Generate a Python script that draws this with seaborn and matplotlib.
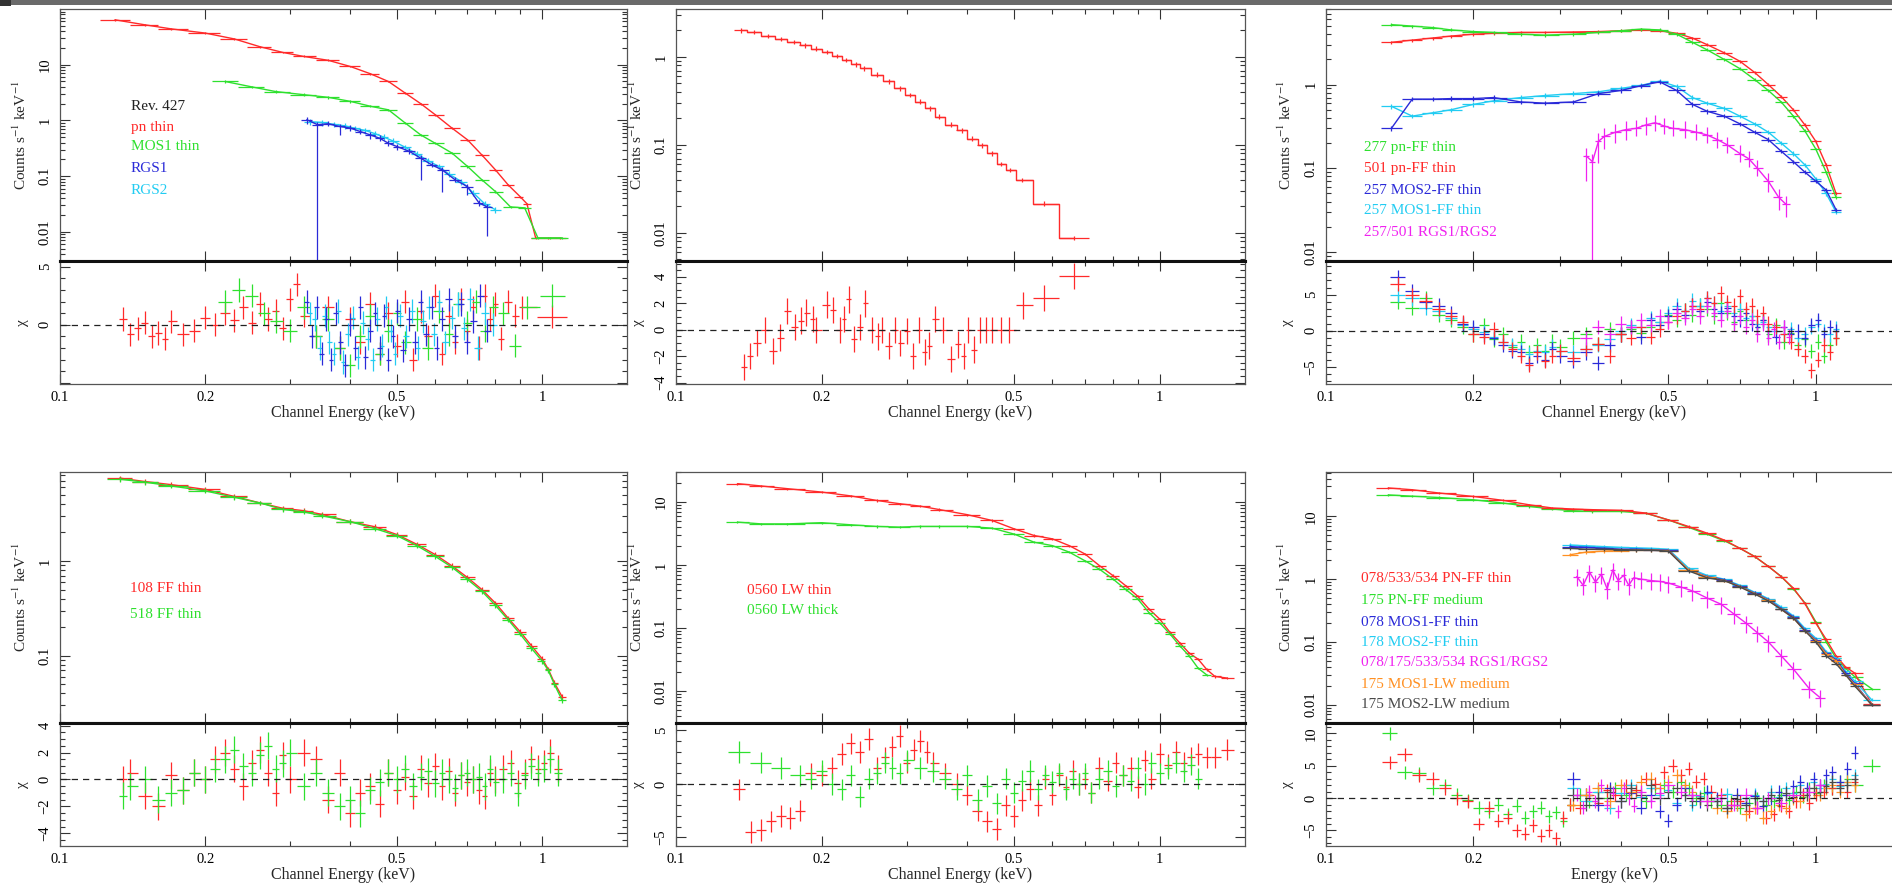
import numpy as np
import pandas as pd
import matplotlib
matplotlib.use("Agg")
import matplotlib.pyplot as plt
from matplotlib.patches import Rectangle
from matplotlib.ticker import FixedLocator, FixedFormatter, NullFormatter, LogLocator, AutoMinorLocator
import seaborn as sns

# ---------------- data ----------------
# Panel 1 : Rev. 427
p1_red_E = [0.13, 0.15, 0.17, 0.20, 0.23, 0.26, 0.29, 0.32, 0.36, 0.40, 0.44, 0.48, 0.52, 0.56, 0.60, 0.65, 0.70, 0.75, 0.80, 0.85, 0.90, 0.93, 0.97, 1.03, 1.09]
p1_red_V = [64, 52, 44, 37, 29, 21, 16.6, 14.1, 12, 9.3, 6.9, 5.0, 3.1, 2.0, 1.27, 0.73, 0.45, 0.24, 0.13, 0.07, 0.043, 0.032, 0.0077, 0.0077, 0.0077]
p1_green_E = [0.22, 0.25, 0.28, 0.32, 0.36, 0.40, 0.44, 0.48, 0.52, 0.56, 0.60, 0.65, 0.70, 0.75, 0.80, 0.86, 0.92, 0.98, 1.04, 1.10]
p1_green_V = [5.0, 4.0, 3.3, 2.9, 2.6, 2.2, 1.8, 1.55, 0.9, 0.55, 0.39, 0.26, 0.15, 0.086, 0.053, 0.028, 0.027, 0.0078, 0.0078, 0.0078]
p1_blue_E = [0.325, 0.342, 0.36, 0.38, 0.40, 0.42, 0.44, 0.46, 0.48, 0.50, 0.53, 0.56, 0.59, 0.62, 0.66, 0.70, 0.74, 0.77]
p1_blue_V = [1.03, 0.84, 0.87, 0.78, 0.73, 0.63, 0.55, 0.48, 0.39, 0.34, 0.28, 0.21, 0.16, 0.13, 0.086, 0.065, 0.033, 0.028]
p1_blue_low = [0.15, 0.999, 0.1, 0.3, 0.1, 0.1, 0.15, 0.1, 0.1, 0.15, 0.1, 0.6, 0.1, 0.6, 0.1, 0.3, 0.1, 0.7]
p1_cyan_E = [0.33, 0.35, 0.37, 0.39, 0.41, 0.43, 0.45, 0.47, 0.49, 0.52, 0.55, 0.58, 0.61, 0.64, 0.68, 0.72, 0.76, 0.80]
p1_cyan_V = [0.95, 0.92, 0.85, 0.80, 0.72, 0.66, 0.58, 0.50, 0.43, 0.33, 0.25, 0.19, 0.15, 0.11, 0.08, 0.05, 0.032, 0.025]

p1_red_rE = [0.135, 0.14, 0.145, 0.15, 0.155, 0.16, 0.165, 0.17, 0.18, 0.19, 0.20, 0.21, 0.22, 0.23, 0.24, 0.25, 0.26, 0.27, 0.28, 0.29, 0.30, 0.31, 0.32, 0.34, 0.36, 0.38, 0.40, 0.42, 0.44, 0.46, 0.48, 0.50, 0.52, 0.54, 0.56, 0.58, 0.60, 0.62, 0.64, 0.66, 0.68, 0.70, 0.72, 0.74, 0.76, 0.78, 0.80, 0.82, 0.85, 0.88, 0.91, 1.05]
p1_red_R = [0.5, -0.8, -0.3, 0.2, -1.0, -0.7, -1.2, 0.3, -0.8, -0.5, 0.6, 0.0, 1.0, 0.4, 1.5, 0.2, 1.8, 0.5, 1.2, -0.3, 2.2, 3.5, 0.8, -1.0, 1.5, -2.0, 0.5, -1.5, 1.8, -2.5, 1.0, -1.8, 2.0, -3.0, 1.2, -1.0, 2.5, -2.5, 0.8, -1.5, 2.2, -0.5, 1.5, -2.0, 2.5, 0.5, 1.8, -1.2, 2.0, 0.8, 1.5, 0.7]
p1_green_rE = [0.22, 0.235, 0.25, 0.265, 0.28, 0.30, 0.32, 0.34, 0.36, 0.38, 0.40, 0.42, 0.44, 0.46, 0.48, 0.50, 0.52, 0.55, 0.58, 0.61, 0.64, 0.67, 0.70, 0.73, 0.76, 0.79, 0.83, 0.88, 0.93, 1.05]
p1_green_R = [2.0, 3.0, 2.5, 1.0, 0.3, -0.5, 1.5, -1.0, 0.5, -2.0, -3.5, -1.0, 0.8, -2.5, -0.5, 1.0, -1.5, 0.5, -2.0, 1.2, -0.8, 1.8, 0.2, 2.0, -0.5, 1.5, 1.0, -1.8, 1.5, 2.5]
p1_blue_rE = [0.325, 0.333, 0.341, 0.349, 0.357, 0.365, 0.373, 0.381, 0.39, 0.40, 0.41, 0.42, 0.43, 0.44, 0.45, 0.46, 0.47, 0.48, 0.49, 0.50, 0.515, 0.53, 0.545, 0.56, 0.575, 0.59, 0.605, 0.62, 0.64, 0.66, 0.68, 0.70, 0.72, 0.745, 0.77]
p1_blue_R = [2.0, -1.0, 1.5, -2.5, 0.5, -3.0, 1.0, -1.5, -3.5, 0.0, -2.0, 1.5, -2.8, -0.5, 1.0, -2.0, 0.8, -3.0, -1.0, 1.2, -2.2, 0.5, -1.5, 2.0, -0.8, 1.5, -2.0, 0.5, 2.2, -1.0, 1.8, -1.5, 0.3, 2.5, -0.5]
p1_cyan_rE = [0.33, 0.338, 0.346, 0.354, 0.362, 0.37, 0.378, 0.386, 0.395, 0.405, 0.415, 0.425, 0.435, 0.445, 0.455, 0.465, 0.475, 0.485, 0.495, 0.507, 0.522, 0.537, 0.552, 0.567, 0.582, 0.597, 0.612, 0.63, 0.65, 0.67, 0.69, 0.71, 0.735, 0.76, 0.79]
p1_cyan_R = [1.0, 0.5, -2.0, 0.8, -1.5, -2.5, 1.2, -3.2, -0.8, 0.6, -2.8, 0.2, -1.2, -3.0, 0.5, -1.8, 1.5, -0.5, -2.5, 0.8, -1.0, 1.2, -2.0, 0.3, 1.5, -0.8, 2.0, -1.5, 0.6, 1.8, -0.3, 2.2, -2.0, 1.0, 0.0]

# Panel 2
p2_E = [0.136, 0.145, 0.155, 0.165, 0.175, 0.185, 0.195, 0.205, 0.215, 0.225, 0.235, 0.245, 0.26, 0.275, 0.29, 0.305, 0.32, 0.335, 0.35, 0.37, 0.39, 0.41, 0.43, 0.45, 0.47, 0.49, 0.52, 0.575, 0.665]
p2_V = [2.0, 1.92, 1.73, 1.6, 1.48, 1.36, 1.24, 1.14, 1.03, 0.92, 0.82, 0.74, 0.63, 0.53, 0.44, 0.37, 0.31, 0.26, 0.21, 0.17, 0.147, 0.118, 0.099, 0.08, 0.061, 0.052, 0.04, 0.0215, 0.0088]
p2_rE = [0.138, 0.142, 0.147, 0.153, 0.159, 0.164, 0.17, 0.176, 0.181, 0.186, 0.192, 0.195, 0.205, 0.211, 0.218, 0.222, 0.228, 0.233, 0.24, 0.246, 0.254, 0.262, 0.267, 0.275, 0.283, 0.291, 0.30, 0.309, 0.318, 0.327, 0.333, 0.343, 0.357, 0.371, 0.382, 0.394, 0.401, 0.413, 0.425, 0.438, 0.451, 0.469, 0.487, 0.522, 0.575, 0.665]
p2_R = [-2.8, -2.0, -1.0, 0.0, -1.6, -0.6, 1.4, 0.2, 0.7, 1.3, 0.8, 0.0, 1.9, 1.5, 0.0, 0.8, 2.3, -0.7, 0.2, 2.0, 0.0, -0.5, 0.0, -1.2, 0.0, -1.0, -0.1, -2.0, 0.0, -1.7, -1.2, 0.8, 0.0, -2.2, -1.1, -2.0, 0.0, -1.5, 0.0, 0.0, 0.0, 0.0, 0.0, 1.85, 2.4, 4.05]

# Panel 3
p3_E = [0.136, 0.15, 0.165, 0.18, 0.2, 0.22, 0.25, 0.28, 0.32, 0.36, 0.40, 0.44, 0.48, 0.52, 0.56, 0.60, 0.65, 0.70, 0.75, 0.80, 0.85, 0.90, 0.95, 1.0, 1.05, 1.1]
p3_green_V = [5.2, 5.0, 4.8, 4.5, 4.3, 4.2, 4.0, 3.9, 4.0, 4.2, 4.4, 4.6, 4.5, 4.0, 3.2, 2.6, 2.0, 1.55, 1.15, 0.85, 0.62, 0.42, 0.28, 0.17, 0.09, 0.045]
p3_red_V = [3.2, 3.4, 3.6, 3.8, 4.0, 4.1, 4.2, 4.2, 4.25, 4.3, 4.4, 4.5, 4.4, 4.1, 3.6, 3.0, 2.4, 1.9, 1.4, 1.0, 0.72, 0.5, 0.33, 0.21, 0.11, 0.05]
p3_blue_V = [0.30, 0.67, 0.67, 0.68, 0.68, 0.70, 0.62, 0.60, 0.62, 0.78, 0.85, 0.97, 1.08, 0.85, 0.58, 0.48, 0.42, 0.34, 0.27, 0.22, 0.16, 0.12, 0.09, 0.07, 0.055, 0.032]
p3_cyan_V = [0.55, 0.42, 0.46, 0.50, 0.58, 0.64, 0.70, 0.74, 0.78, 0.82, 0.90, 0.98, 1.10, 0.95, 0.70, 0.60, 0.52, 0.42, 0.34, 0.27, 0.20, 0.15, 0.11, 0.075, 0.05, 0.03]
p3_mag_E = [0.34, 0.35, 0.36, 0.37, 0.39, 0.41, 0.43, 0.45, 0.47, 0.49, 0.51, 0.54, 0.57, 0.60, 0.63, 0.66, 0.70, 0.73, 0.76, 0.80, 0.84, 0.87]
p3_mag_V = [0.14, 0.12, 0.21, 0.24, 0.27, 0.29, 0.30, 0.33, 0.35, 0.32, 0.30, 0.29, 0.27, 0.25, 0.22, 0.19, 0.15, 0.13, 0.10, 0.07, 0.045, 0.037]
p3_mag_low = [0.5, 0.999, 0.45, 0.3, 0.25, 0.25, 0.2, 0.25, 0.2, 0.2, 0.2, 0.2, 0.2, 0.2, 0.2, 0.2, 0.2, 0.2, 0.2, 0.25, 0.3, 0.3]

p3_rE = [0.14, 0.15, 0.16, 0.17, 0.18, 0.19, 0.20, 0.21, 0.22, 0.23, 0.24, 0.25, 0.26, 0.27, 0.28, 0.29, 0.30, 0.32, 0.34, 0.36, 0.38, 0.40, 0.42, 0.44, 0.46, 0.48, 0.50, 0.52, 0.54, 0.56, 0.58, 0.60, 0.62, 0.64, 0.66, 0.68, 0.70, 0.72, 0.74, 0.76, 0.78, 0.80, 0.83, 0.86, 0.89, 0.92, 0.95, 0.98, 1.01, 1.04, 1.07, 1.10]
p3_red_R = [6.5, 5.0, 4.2, 3.0, 2.0, 1.2, -0.5, -0.8, 0.2, -1.5, -2.5, -3.5, -4.8, -3.0, -4.2, -3.5, -2.8, -3.8, -2.5, -1.8, -3.5,
            -0.5, -1.0, 0.5, -0.8, 0.2, 1.2, 2.0, 2.8, 3.5, 3.0, 4.5, 3.8, 5.2, 4.0, 3.5, 4.8, 3.0, 3.5, 2.0, 2.5, 1.0,
            0.5, -0.5, -1.5, -2.5, -3.5, -5.5, -4.0, -2.0, -3.0, -1.0]
p3_green_R = [4.0, 3.2, 4.5, 2.2, 1.5, 0.5, -0.5, 0.8, -1.2, -0.5, -2.2, -1.5, -3.0, -2.0, -2.8, -1.5, -2.2, -1.0, -0.5, -1.8, 0.2,
              -0.5, 0.3, -0.3, 0.5, 1.2, 2.2, 1.5, 2.8, 2.2, 3.5, 3.0, 2.0, 3.8, 2.5, 1.2, 2.8, 1.5, 2.0, 0.5, 1.5, -0.5,
              0.8, -1.5, -0.3, -2.0, -1.2, -2.8, -1.5, -3.5, -2.0, -1.0]
p3_blue_R = [7.5, 5.5, 4.0, 3.5, 2.5, 1.0, 0.5, -0.5, -1.0, -2.0, -2.8, -3.0, -4.5, -3.5, -4.0, -2.5, -3.5, -4.2, -3.0, -4.5, -2.0,
             -0.5, 0.5, -0.8, 1.5, 0.8, 2.0, 3.0, 2.2, 3.5, 2.8, 4.0, 3.0, 2.5, 3.2, 2.0, 1.5, 2.5, 1.0, 0.5, 1.5, 0.0,
             -0.8, 0.5, -0.5, 0.0, -1.0, 0.8, 1.5, -0.5, 0.5, 0.0]
p3_cyan_R = [5.0, 4.5, 3.2, 2.8, 1.8, 0.8, 0.2, -0.2, -0.8, -1.5, -2.0, -2.5, -3.2, -2.8, -3.0, -2.2, -2.8, -3.0, -2.5, -2.0, -1.2,
             0.0, 0.8, 0.5, 1.8, 1.2, 2.5, 3.5, 2.8, 4.2, 3.5, 4.5, 3.8, 2.8, 3.5, 2.5, 3.0, 1.8, 2.0, 1.0, 1.2, 0.5,
             0.0, -0.5, 0.2, -1.0, -0.5, 0.5, 1.0, 0.0, -0.5, 0.3]
p3_mag_rE = [0.34, 0.36, 0.38, 0.40, 0.42, 0.44, 0.46, 0.48, 0.50, 0.52, 0.54, 0.56, 0.58, 0.60, 0.62, 0.64, 0.66, 0.68, 0.70, 0.72, 0.74, 0.76, 0.78, 0.80, 0.82, 0.84, 0.86, 0.88]
p3_mag_R = [-1.0, 0.5, -0.5, 1.0, 0.5, 1.5, 0.8, 2.0, 1.2, 2.5, 1.8, 3.0, 2.0, 3.5, 2.5, 1.5, 2.8, 1.0, 2.0, 0.5, 1.5, -0.5, 1.0, -1.0, 0.2, -1.5, 0.5, -0.8]

# Panel 4
p4_E = [0.133, 0.15, 0.17, 0.2, 0.23, 0.26, 0.29, 0.32, 0.35, 0.4, 0.45, 0.5, 0.55, 0.6, 0.65, 0.7, 0.75, 0.8, 0.85, 0.9, 0.95, 1.0, 1.03, 1.06, 1.1]
p4_red_V = [7.5, 6.9, 6.4, 5.7, 4.8, 4.1, 3.6, 3.4, 3.1, 2.6, 2.3, 1.9, 1.5, 1.17, 0.89, 0.67, 0.5, 0.36, 0.25, 0.18, 0.128, 0.093, 0.072, 0.052, 0.037]
p4_green_V = [7.3, 6.8, 6.2, 5.5, 4.7, 4.1, 3.5, 3.3, 3.0, 2.6, 2.2, 1.85, 1.45, 1.12, 0.86, 0.64, 0.48, 0.34, 0.24, 0.17, 0.12, 0.088, 0.07, 0.05, 0.034]
p4_rE = [0.135, 0.14, 0.15, 0.16, 0.17, 0.18, 0.19, 0.20, 0.21, 0.22, 0.23, 0.24, 0.25, 0.26, 0.27, 0.28, 0.29, 0.30, 0.32, 0.34, 0.36, 0.38, 0.40, 0.42, 0.44, 0.46, 0.48, 0.50, 0.52, 0.54, 0.56, 0.58, 0.60, 0.62, 0.64, 0.66, 0.68, 0.70, 0.72, 0.74, 0.76, 0.78, 0.80, 0.83, 0.86, 0.89, 0.92, 0.95, 0.98, 1.01, 1.04, 1.08]
p4_red_R = [0.0, 0.5, -1.2, -2.0, 0.3, -0.8, 0.5, 0.0, 1.5, 2.0, 0.8, -0.5, 1.2, 2.2, 0.5, -1.0, 1.8, 0.0, 2.0, 1.5, -1.5, 0.5, -2.5, -1.0, -0.5, -1.8, 0.5, -0.8, 0.2, -1.2, 0.8, -0.3, 1.0, -0.5, 0.6, -1.0, 0.3, -0.2, 0.0, -0.8, -1.2, 0.5, 0.0, 0.8, 1.2, -0.3, 0.5, 1.5, 0.8, 1.2, 2.0, 0.8]
p4_green_R = [-1.2, -0.5, 0.0, -1.5, -1.0, -0.8, 0.5, 0.0, 0.8, 1.5, 2.2, 1.0, 0.5, 1.8, 2.5, 0.8, 1.2, 2.0, -0.5, 0.5, -1.0, -2.0, -1.5, -2.5, -0.8, -0.2, 0.5, 0.0, 0.8, -0.5, 0.2, 0.6, -0.3, 0.5, 0.0, -0.6, 0.3, 0.5, 0.0, 0.2, -0.5, 0.8, -0.2, 0.0, 0.5, -1.0, 0.3, 1.0, 0.5, 0.8, 1.5, 0.5]

# Panel 5
p5_red_E = [0.134, 0.15, 0.17, 0.2, 0.23, 0.26, 0.29, 0.32, 0.35, 0.4, 0.45, 0.5, 0.55, 0.6, 0.65, 0.7, 0.75, 0.8, 0.85, 0.9, 0.95, 1.0, 1.05, 1.1, 1.15, 1.2, 1.25, 1.3, 1.38]
p5_red_V = [19.6, 18, 16.3, 14.4, 12.5, 10.6, 9.4, 8.6, 7.6, 6.3, 5.1, 3.75, 2.94, 2.6, 2.03, 1.5, 0.98, 0.68, 0.47, 0.32, 0.2, 0.138, 0.085, 0.058, 0.04, 0.032, 0.022, 0.017, 0.016]
p5_green_E = [0.134, 0.15, 0.17, 0.2, 0.23, 0.26, 0.29, 0.32, 0.35, 0.4, 0.45, 0.5, 0.55, 0.6, 0.65, 0.7, 0.75, 0.8, 0.85, 0.9, 0.95, 1.0, 1.05, 1.1, 1.15, 1.2, 1.25]
p5_green_V = [4.8, 4.5, 4.5, 4.7, 4.35, 4.1, 4.0, 4.1, 4.1, 4.1, 3.85, 3.1, 2.3, 2.03, 1.6, 1.17, 0.86, 0.6, 0.41, 0.29, 0.175, 0.12, 0.08, 0.052, 0.036, 0.023, 0.018]
p5_red_rE = [0.135, 0.143, 0.15, 0.157, 0.165, 0.172, 0.18, 0.19, 0.20, 0.21, 0.22, 0.23, 0.24, 0.25, 0.26, 0.27, 0.28, 0.29, 0.30, 0.31, 0.32, 0.33, 0.34, 0.36, 0.38, 0.40, 0.42, 0.44, 0.46, 0.48, 0.50, 0.52, 0.54, 0.56, 0.58, 0.60, 0.62, 0.64, 0.66, 0.68, 0.70, 0.72, 0.75, 0.78, 0.81, 0.84, 0.87, 0.90, 0.93, 0.96, 1.0, 1.04, 1.08, 1.12, 1.16, 1.2, 1.25, 1.3, 1.38]
p5_red_R = [-0.5, -4.5, -4.3, -3.5, -3.0, -3.2, -2.5, 1.0, 0.8, 1.5, 2.8, 3.8, 3.0, 4.2, 1.5, 2.5, 3.5, 4.5, 2.0, 3.2, 4.0, 3.0, 2.0, 1.0, 0.0, -1.0, -2.5, -3.5, -4.2, -2.0, -3.0, -1.5, -0.5, -2.0, 0.5, -1.0, 0.8, -0.3, 1.2, 0.0, 0.5, -0.8, 1.5, 0.3, 2.0, 0.8, 1.5, -0.3, 2.2, 0.5, 2.8, 1.8, 3.0, 2.0, 2.5, 2.8, 2.5, 2.5, 3.2]
p5_green_rE = [0.135, 0.15, 0.165, 0.18, 0.19, 0.20, 0.21, 0.22, 0.23, 0.24, 0.25, 0.26, 0.27, 0.28, 0.29, 0.30, 0.32, 0.34, 0.36, 0.38, 0.40, 0.42, 0.44, 0.46, 0.48, 0.50, 0.52, 0.54, 0.56, 0.58, 0.60, 0.62, 0.64, 0.66, 0.68, 0.70, 0.72, 0.75, 0.78, 0.81, 0.84, 0.87, 0.90, 0.93, 0.96, 1.0, 1.04, 1.08, 1.12, 1.16, 1.2]
p5_green_R = [3.0, 2.0, 1.5, 0.8, 0.5, 1.2, 0.0, -0.5, 0.8, -1.2, 0.5, 1.0, 2.0, 1.5, 1.0, 2.2, 1.5, 1.2, 0.5, -0.5, 0.8, -1.5, -0.2, -1.8, 0.5, -0.8, 0.3, 1.2, -0.5, 0.8, 0.2, 1.0, -0.5, 0.5, 0.0, 1.0, -0.8, 0.5, 1.2, -0.2, 0.8, 0.3, 1.5, 0.0, 2.0, 1.0, 1.5, 2.0, 1.2, 1.8, 0.5]

# Panel 6
p6_E = [0.134, 0.15, 0.17, 0.2, 0.23, 0.26, 0.29, 0.32, 0.35, 0.4, 0.45, 0.5, 0.55, 0.6, 0.65, 0.7, 0.75, 0.8, 0.85, 0.9, 0.95, 1.0, 1.05, 1.1, 1.15, 1.2, 1.3]
p6_red_V = [28.4, 26.6, 23.6, 20.8, 18, 15.3, 13.6, 13.1, 12.8, 12.5, 11.3, 8.8, 6.9, 5.4, 4.2, 3.1, 2.3, 1.6, 1.1, 0.72, 0.41, 0.2, 0.11, 0.06, 0.04, 0.032, 0.0104]
p6_green_V = [22, 21, 20, 18.4, 16.3, 14.4, 13.1, 12.3, 12.0, 12.0, 11.2, 8.8, 6.7, 5.2, 4.1, 3.1, 2.3, 1.6, 1.1, 0.7, 0.42, 0.21, 0.1, 0.055, 0.038, 0.028, 0.018]
p6_mos_E = [0.315, 0.34, 0.37, 0.40, 0.43, 0.46, 0.5, 0.55, 0.6, 0.65, 0.7, 0.75, 0.8, 0.85, 0.9, 0.95, 1.0, 1.05, 1.1, 1.15, 1.2, 1.3]
p6_blue_V = [3.3, 3.2, 3.1, 3.0, 3.0, 2.95, 2.9, 1.4, 1.1, 0.98, 0.77, 0.6, 0.47, 0.34, 0.25, 0.155, 0.108, 0.066, 0.052, 0.032, 0.022, 0.01]
p6_cyan_V = [3.5, 3.4, 3.3, 3.2, 3.15, 3.1, 3.0, 1.5, 1.15, 1.0, 0.8, 0.62, 0.49, 0.36, 0.26, 0.165, 0.115, 0.07, 0.055, 0.034, 0.024, 0.012]
p6_orange_V = [2.45, 2.7, 2.8, 2.85, 2.9, 2.9, 2.85, 1.4, 1.08, 0.95, 0.76, 0.59, 0.46, 0.33, 0.24, 0.15, 0.105, 0.064, 0.05, 0.03, 0.021, 0.01]
p6_gray_V = [3.1, 3.0, 3.0, 2.95, 2.9, 2.9, 2.8, 1.35, 1.05, 0.95, 0.75, 0.58, 0.45, 0.33, 0.24, 0.15, 0.1, 0.06, 0.045, 0.03, 0.02, 0.01]
p6_mag_E = [0.325, 0.335, 0.345, 0.355, 0.365, 0.375, 0.385, 0.395, 0.405, 0.415, 0.425, 0.44, 0.46, 0.48, 0.50, 0.53, 0.56, 0.60, 0.64, 0.68, 0.72, 0.76, 0.80, 0.85, 0.90, 0.97, 1.02]
p6_mag_V = [1.1, 0.8, 1.3, 0.9, 1.2, 0.7, 1.4, 0.95, 1.15, 0.8, 1.05, 1.0, 0.95, 0.92, 0.87, 0.75, 0.65, 0.5, 0.4, 0.28, 0.2, 0.14, 0.1, 0.06, 0.037, 0.018, 0.013]

p6_pn_rE = [0.135, 0.145, 0.155, 0.165, 0.175, 0.185, 0.195, 0.205, 0.215, 0.225, 0.235, 0.245, 0.255, 0.265, 0.275, 0.285, 0.295, 0.305, 0.315, 0.33, 0.345, 0.36, 0.375, 0.39, 0.41, 0.43, 0.45, 0.47, 0.49, 0.51, 0.53, 0.55, 0.57, 0.59, 0.61, 0.64, 0.67, 0.70, 0.73, 0.76, 0.79, 0.82, 0.85, 0.88, 0.91, 0.94, 0.97, 1.0, 1.04, 1.08, 1.12, 1.16, 1.2, 1.3]
p6_red_R = [5.5, 6.8, 3.5, 3.0, 1.5, 0.0, -0.5, -4.0, -1.5, -3.5, -3.0, -5.0, -5.5, -4.2, -5.8, -5.0, -6.2, -3.0, -1.0, -1.5, 0.5, -0.8, 1.2, 0.5, 2.0, 1.2, 3.0, 2.2, 4.0, 5.0, 3.5, 4.5, 2.5, 3.0, 1.0, 0.5, -1.0, -0.5, -2.0, -1.5, -3.0, -2.5, -1.2, -2.0, -0.5, 0.5, -0.8, 0.5, 1.0, 1.5, 2.0, 1.0, 2.5]
p6_green_R = [10.0, 4.0, 3.8, 1.5, 2.0, 0.5, -0.3, -1.5, -2.0, -1.0, -2.5, -1.2, -3.0, -2.0, -1.5, -2.8, -2.2, -3.5, -1.0, 0.5, -0.5, 1.0, 0.0, 1.5, 0.5, 1.0, -0.5, 1.5, 2.0, 1.0, 2.5, 1.5, 0.0, 0.8, -0.5, -1.0, -0.5, -1.5, -0.8, 0.0, -1.0, -0.5, 0.5, -0.3, 1.0, 0.2, 1.5, 0.8, 2.0, 1.5, 2.5, 3.0, 2.0, 5.0]
p6_mos_rE = [0.32, 0.34, 0.36, 0.38, 0.40, 0.42, 0.44, 0.46, 0.48, 0.50, 0.52, 0.54, 0.56, 0.58, 0.60, 0.63, 0.66, 0.69, 0.72, 0.75, 0.78, 0.81, 0.84, 0.87, 0.90, 0.93, 0.96, 0.99, 1.02, 1.05, 1.08, 1.12, 1.16, 1.2]
p6_blue_R = [3.0, 0.5, -1.0, 1.5, -0.5, 0.8, -1.5, 0.5, -2.0, -3.5, -1.0, 1.5, 0.5, -0.5, 1.0, 0.0, -1.5, 0.5, -0.8, 0.3, -1.2, 0.0, 1.0, 0.5, 1.8, 2.5, 1.5, 3.0, 2.0, 3.5, 4.0, 2.5, 4.5, 7.0]
p6_cyan_R = [1.5, -0.5, 1.0, -1.5, 0.8, 2.0, 0.2, 1.5, 0.5, 1.2, -0.8, 0.5, -1.0, 0.3, 0.8, -0.5, 0.6, -1.0, 0.0, 0.5, -0.5, 1.0, 0.2, 1.5, 0.8, 2.0, 1.0, 2.5, 1.5, 2.2, 3.0, 1.8, 2.5, 3.5]
p6_orange_R = [-1.0, 0.5, 1.5, -0.5, 2.0, 1.0, 2.5, 3.0, 1.5, 2.5, 3.5, 2.0, 1.0, 0.0, -0.5, -1.5, -2.0, -1.0, -2.5, -1.5, -3.0, -2.0, -1.0, -1.5, 0.0, -0.5, 0.5, 1.0, 0.5, 1.5, 2.0, 1.0, 2.5, 2.0]
p6_gray_R = [0.5, -1.0, 0.0, 1.0, -0.5, 1.5, 0.5, 2.0, 0.0, 1.0, 1.5, 0.5, -0.5, 0.0, -1.0, -0.5, -1.5, -0.2, -1.0, 0.0, -0.5, 0.5, -0.3, 0.8, 0.2, 1.0, 0.5, 1.5, 1.0, 1.8, 2.5, 1.5, 2.0, 3.0]
p6_mag_R = [0.5, -1.5, 1.0, -0.5, 2.0, -1.0, 0.8, -2.0, 1.5, 0.0, -1.2, 1.0, -0.5, 0.8, 2.0, 1.0, 0.5, -0.5, 0.0, -1.0, 0.5, -1.5, 0.0, -0.8, 0.5, 1.0, 2.0]

# legend texts
p1_labels = ["Rev. 427", "pn thin", "MOS1 thin", "RGS1", "RGS2"]
p3_labels = ["277 pn-FF thin", "501 pn-FF thin", "257 MOS2-FF thin", "257 MOS1-FF thin", "257/501 RGS1/RGS2"]
p4_labels = ["108 FF thin", "518 FF thin"]
p5_labels = ["0560 LW thin", "0560 LW thick"]
p6_labels = ["078/533/534 PN-FF thin", "175 PN-FF medium", "078 MOS1-FF thin", "178 MOS2-FF thin",
             "078/175/533/534 RGS1/RGS2", "175 MOS1-LW medium", "175 MOS2-LW medium"]
x_tick_vals = [0.1, 0.2, 0.5, 1.0]
x_tick_text = ["0.1", "0.2", "0.5", "1"]

# ---------------- styling ----------------
sns.set_theme(style="ticks")
plt.rcParams["font.family"] = ["Liberation Serif", "DejaVu Serif"]
plt.rcParams["mathtext.fontset"] = "stix"
plt.rcParams["axes.unicode_minus"] = True

C = {"red": "#ff2a2a", "green": "#2ee02e", "blue": "#2a2ad8", "cyan": "#22ccf2",
     "magenta": "#f022f0", "orange": "#ff9022", "gray": "#4a4a4a", "black": "#222222"}

W, H = 1892, 886
fig = plt.figure(figsize=(W / 100, H / 100), dpi=100)
fig.add_artist(Rectangle((0, 1 - 5 / H), 1, 5 / H, transform=fig.transFigure, color="#6a6a6a", lw=0))
fig.add_artist(Rectangle((0, 1 - 6 / H), 11 / W, 6 / H, transform=fig.transFigure, color="#333333", lw=0))

COLS = [(60, 627), (676, 1245), (1326, 1902)]
ROWS = [(9, 261, 384), (472, 723, 846)]


def make_axes(col, row):
    l, r = COLS[col]
    t, m, b = ROWS[row]
    axt = fig.add_axes([l / W, 1 - m / H, (r - l) / W, (m - t) / H])
    axr = fig.add_axes([l / W, 1 - b / H, (r - l) / W, (b - m) / H])
    for ax in (axt, axr):
        ax.set_xscale("log")
    axt.set_yscale("log")
    return axt, axr


def half_widths(E):
    E = np.asarray(E, float)
    mid = np.sqrt(E[1:] * E[:-1])
    lo = np.concatenate([[E[0] ** 2 / mid[0]], mid])
    hi = np.concatenate([mid, [E[-1] ** 2 / mid[-1]]])
    return E - lo, hi - E


def spectrum(ax, E, V, color, rel, low=None, z=2, steps=False):
    n = min(len(E), len(V))
    E = np.asarray(E[:n], float)
    V = np.asarray(V[:n], float)
    xl, xh = half_widths(E)
    lo = V * np.asarray(low[:n], float) if low is not None else V * rel
    ax.errorbar(E, V, xerr=[xl, xh], yerr=[lo, V * rel], fmt="none", ecolor=color,
                elinewidth=0.9, capsize=0, zorder=z)
    df = pd.DataFrame({"E": E, "V": V})
    sns.lineplot(data=df, x="E", y="V", ax=ax, color=color, lw=1.0,
                 drawstyle="steps-mid" if steps else "default",
                 estimator=None, sort=False, legend=False, zorder=z)


def residual(ax, E, R, color, z=2):
    n = min(len(E), len(R))
    E = np.asarray(E[:n], float)
    R = np.asarray(R[:n], float)
    xl, xh = half_widths(E)
    ax.errorbar(E, R, xerr=[xl, xh], yerr=1.0, fmt="none", ecolor=color,
                elinewidth=0.9, capsize=0, zorder=z)


def fmt_num(v):
    return ("%g" % v)


def style(axt, axr, ylim, yt, rlim, rt, rlabels, xlabel):
    for ax in (axt, axr):
        ax.set_xlim(0.1, 1.5)
        ax.xaxis.set_major_locator(FixedLocator(x_tick_vals))
        ax.xaxis.set_major_formatter(FixedFormatter(x_tick_text))
        ax.xaxis.set_minor_locator(FixedLocator([0.3, 0.4, 0.6, 0.7, 0.8, 0.9]))
        ax.xaxis.set_minor_formatter(NullFormatter())
        ax.tick_params(which="both", direction="in", top=True, right=True, bottom=True, left=True,
                       color="#333333", labelcolor="black", labelsize=10.5)
        ax.tick_params(which="major", length=7, width=0.8)
        ax.tick_params(which="minor", length=3.5, width=0.8)
        ax.tick_params(axis="y", pad=6)
        for s in ax.spines.values():
            s.set_color("#555555")
            s.set_linewidth(0.9)
        ax.grid(False)
        ax.set_xlabel("")
        ax.set_ylabel("")
    axt.set_ylim(*ylim)
    axt.yaxis.set_major_locator(FixedLocator(yt))
    axt.yaxis.set_major_formatter(FixedFormatter([fmt_num(v) for v in yt]))
    axt.yaxis.set_minor_locator(LogLocator(base=10, subs=np.arange(2, 10)))
    axt.yaxis.set_minor_formatter(NullFormatter())
    axt.tick_params(axis="x", labelbottom=False)
    axr.set_ylim(*rlim)
    axr.yaxis.set_major_locator(FixedLocator(rt))
    axr.yaxis.set_major_formatter(FixedFormatter(rlabels))
    axr.yaxis.set_minor_locator(AutoMinorLocator())
    axr.tick_params(axis="x", pad=5)
    for ax in (axt, axr):
        for lab in ax.get_yticklabels():
            lab.set_rotation(90)
            lab.set_va("center")
    axt.spines["bottom"].set_linewidth(2.2)
    axt.spines["bottom"].set_color("#111111")
    axr.spines["top"].set_linewidth(2.2)
    axr.spines["top"].set_color("#111111")
    axr.axhline(0, color="#222222", lw=0.9, ls=(0, (5, 4)), zorder=6)
    axt.set_ylabel("Counts s$^{-1}$ keV$^{-1}$", fontsize=11)
    axt.yaxis.set_label_coords(-0.055, 0.5)
    axr.set_ylabel("χ", fontsize=11)
    axr.yaxis.set_label_coords(-0.055, 0.5)
    axr.set_xlabel(xlabel, fontsize=11.5, labelpad=1)


def legend_text(x, ys, labels, colors):
    for y, lab, c in zip(ys, labels, colors):
        fig.text(x / W, 1 - y / H, lab, color=c, fontsize=11, va="center", ha="left")


# ---------------- Panel 1 ----------------
a, r = make_axes(0, 0)
spectrum(a, p1_red_E, p1_red_V, C["red"], 0.04)
spectrum(a, p1_green_E, p1_green_V, C["green"], 0.05)
spectrum(a, p1_cyan_E, p1_cyan_V, C["cyan"], 0.12)
spectrum(a, p1_blue_E, p1_blue_V, C["blue"], 0.12, low=p1_blue_low)
residual(r, p1_red_rE, p1_red_R, C["red"])
residual(r, p1_green_rE, p1_green_R, C["green"])
residual(r, p1_cyan_rE, p1_cyan_R, C["cyan"])
residual(r, p1_blue_rE, p1_blue_R, C["blue"])
style(a, r, (0.003, 100), [0.01, 0.1, 1, 10], (-5.1, 5.5), [-5, 0, 5], ["", "0", "5"], "Channel Energy (keV)")
legend_text(131, [107, 127, 147, 168, 190], p1_labels, [C["black"], C["red"], C["green"], C["blue"], C["cyan"]])

# ---------------- Panel 2 ----------------
a, r = make_axes(1, 0)
spectrum(a, p2_E, p2_V, C["red"], 0.06, steps=True)
residual(r, p2_rE, p2_R, C["red"])
style(a, r, (0.0048, 3.5), [0.01, 0.1, 1], (-4.1, 5.2), [-4, -2, 0, 2, 4],
      ["\u22124", "\u22122", "0", "2", "4"], "Channel Energy (keV)")

# ---------------- Panel 3 ----------------
a, r = make_axes(2, 0)
spectrum(a, p3_E, p3_red_V, C["red"], 0.04)
spectrum(a, p3_E, p3_green_V, C["green"], 0.04)
spectrum(a, p3_E, p3_cyan_V, C["cyan"], 0.06)
spectrum(a, p3_E, p3_blue_V, C["blue"], 0.06)
spectrum(a, p3_mag_E, p3_mag_V, C["magenta"], 0.25, low=p3_mag_low)
residual(r, p3_rE, p3_green_R, C["green"])
residual(r, p3_rE, p3_cyan_R, C["cyan"])
residual(r, p3_rE, p3_blue_R, C["blue"])
residual(r, p3_rE, p3_red_R, C["red"])
residual(r, p3_mag_rE, p3_mag_R, C["magenta"])
style(a, r, (0.0078, 8), [0.01, 0.1, 1], (-7.4, 9.7), [-5, 0, 5], ["\u22125", "0", "5"], "Channel Energy (keV)")
legend_text(1364, [147, 168, 190, 211, 232], p3_labels, [C["green"], C["red"], C["blue"], C["cyan"], C["magenta"]])

# ---------------- Panel 4 ----------------
a, r = make_axes(0, 1)
spectrum(a, p4_E, p4_red_V, C["red"], 0.06)
spectrum(a, p4_E, p4_green_V, C["green"], 0.06)
residual(r, p4_rE, p4_red_R, C["red"])
residual(r, p4_rE, p4_green_R, C["green"])
style(a, r, (0.0195, 8.7), [0.1, 1], (-4.95, 4.2), [-4, -2, 0, 2, 4],
      ["\u22124", "\u22122", "0", "2", "4"], "Channel Energy (keV)")
legend_text(130, [588, 615], p4_labels, [C["red"], C["green"]])

# ---------------- Panel 5 ----------------
a, r = make_axes(1, 1)
spectrum(a, p5_red_E, p5_red_V, C["red"], 0.04)
spectrum(a, p5_green_E, p5_green_V, C["green"], 0.04)
residual(r, p5_red_rE, p5_red_R, C["red"])
residual(r, p5_green_rE, p5_green_R, C["green"])
style(a, r, (0.0031, 30), [0.01, 0.1, 1, 10], (-5.8, 5.7), [-5, 0, 5], ["\u22125", "0", "5"], "Channel Energy (keV)")
legend_text(747, [590, 611], p5_labels, [C["red"], C["green"]])

# ---------------- Panel 6 ----------------
a, r = make_axes(2, 1)
spectrum(a, p6_E, p6_green_V, C["green"], 0.04)
spectrum(a, p6_E, p6_red_V, C["red"], 0.04)
spectrum(a, p6_mos_E, p6_cyan_V, C["cyan"], 0.06)
spectrum(a, p6_mos_E, p6_blue_V, C["blue"], 0.06)
spectrum(a, p6_mos_E, p6_orange_V, C["orange"], 0.06)
spectrum(a, p6_mos_E, p6_gray_V, C["gray"], 0.06)
spectrum(a, p6_mag_E, p6_mag_V, C["magenta"], 0.3)
residual(r, p6_pn_rE, p6_green_R, C["green"])
residual(r, p6_pn_rE, p6_red_R, C["red"])
residual(r, p6_mos_rE, p6_cyan_R, C["cyan"])
residual(r, p6_mos_rE, p6_blue_R, C["blue"])
residual(r, p6_mos_rE, p6_orange_R, C["orange"])
residual(r, p6_mos_rE, p6_gray_R, C["gray"])
residual(r, p6_mag_E, p6_mag_R, C["magenta"])
style(a, r, (0.0051, 51), [0.01, 0.1, 1, 10], (-7.4, 11.6), [-5, 0, 5, 10],
      ["\u22125", "0", "5", "10"], "Energy (keV)")
legend_text(1361, [579, 601, 622, 642, 662, 684, 705], p6_labels,
            [C["red"], C["green"], C["blue"], C["cyan"], C["magenta"], C["orange"], C["gray"]])

fig.savefig("out.png", dpi=100)
